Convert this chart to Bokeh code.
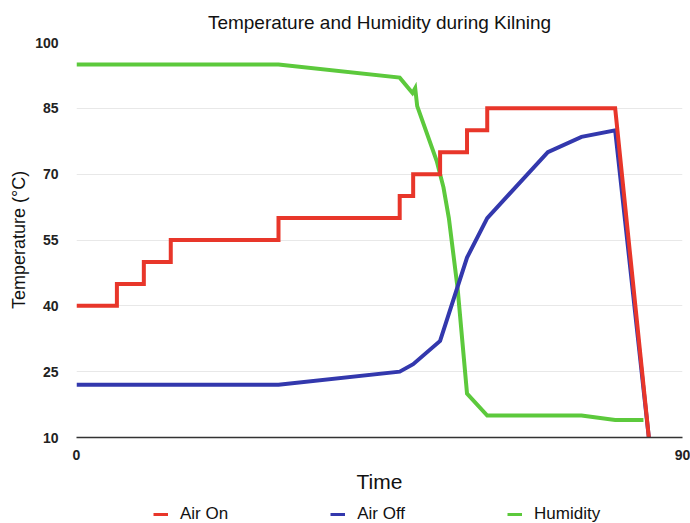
from bokeh.plotting import figure
from bokeh.models import Range1d, FixedTicker, Legend, LegendItem
from bokeh.layouts import column
from bokeh.embed import file_html
from bokeh.resources import INLINE

# ---- data ----
air_on_time = [0, 6, 6, 10, 10, 14, 14, 30, 30, 48, 48, 50, 50, 54, 54, 58, 58, 61, 61, 80, 85]
air_on_temp = [40, 40, 45, 45, 50, 50, 55, 55, 60, 60, 65, 65, 70, 70, 75, 75, 80, 80, 85, 85, 10]

air_off_time = [0, 30, 48, 50, 54, 58, 61, 70, 75, 80, 85]
air_off_temp = [22, 22, 25, 26.7, 32, 51, 60, 75, 78.5, 80, 10]

humidity_time = [0, 30, 48, 49.9, 50.3, 50.6, 53.5, 54.5, 55.3, 56.6, 58, 61, 75, 80, 84.2]
humidity_val = [95, 95, 92, 88.5, 89.6, 85.5, 73, 67, 60, 44, 20, 15, 15, 14, 14]

series_names = ["Air On", "Air Off", "Humidity"]
series_colors = ["#e8362a", "#3338ad", "#5cc93c"]

y_ticks = [10, 25, 40, 55, 70, 85, 100]
x_ticks = [0, 90]

FONT = "Liberation Sans"

p = figure(width=690, height=495, x_range=Range1d(0, 90), y_range=Range1d(10, 100),
           output_backend="svg", toolbar_location=None,
           min_border_left=76, min_border_right=8, min_border_top=42, min_border_bottom=54,
           title="Temperature and Humidity during Kilning")

p.title.align = "center"
p.title.text_font = FONT
p.title.text_font_size = "19px"
p.title.text_font_style = "normal"
p.title.text_color = "#111111"
p.title.offset = 0
p.title.standoff = 19

p.outline_line_color = None
p.background_fill_color = "white"
p.xgrid.grid_line_color = None
p.ygrid.grid_line_color = "#e8e8e8"
p.ygrid.grid_line_width = 1

p.xaxis.ticker = FixedTicker(ticks=x_ticks)
p.yaxis.ticker = FixedTicker(ticks=y_ticks)
p.xaxis.axis_line_color = "#333333"
p.xaxis.axis_line_width = 1.5
p.yaxis.axis_line_color = None
for ax in (p.xaxis, p.yaxis):
    ax.major_tick_line_color = None
    ax.minor_tick_line_color = None
    ax.major_label_text_font = FONT
    ax.major_label_text_font_size = "14px"
    ax.major_label_text_font_style = "bold"
    ax.major_label_text_color = "#222222"
    ax.axis_label_text_font = FONT
    ax.axis_label_text_font_style = "normal"
    ax.axis_label_text_color = "#111111"

p.xaxis.axis_label = "Time"
p.xaxis.axis_label_text_font_size = "21px"
p.xaxis.major_label_standoff = 6
p.xaxis.axis_label_standoff = 7
p.yaxis.axis_label = "Temperature (°C)"
p.yaxis.axis_label_text_font_size = "18px"
p.yaxis.major_label_standoff = 12
p.yaxis.axis_label_standoff = 3

lw = 4
g = p.line(humidity_time, humidity_val, line_color=series_colors[2], line_width=lw, line_join="miter")
b = p.line(air_off_time, air_off_temp, line_color=series_colors[1], line_width=lw, line_join="miter")
r = p.line(air_on_time, air_on_temp, line_color=series_colors[0], line_width=lw, line_join="miter")

# legend strip below the chart (frame aligned with the chart's frame)
lg = figure(width=690, height=28, x_range=Range1d(0, 1), y_range=Range1d(0, 1),
            output_backend="svg", toolbar_location=None,
            x_axis_type=None, y_axis_type=None,
            min_border_left=76, min_border_right=8, min_border_top=0, min_border_bottom=0)
lg.outline_line_color = None
lg.grid.grid_line_color = None
dummies = [lg.line([-2, -1], [-2, -1], line_color=c, line_width=3) for c in series_colors]
legend = Legend(items=[LegendItem(label=n, renderers=[d]) for n, d in zip(series_names, dummies)],
                orientation="horizontal", location=(77, -1),
                spacing=102, glyph_width=15, glyph_height=18, label_standoff=12,
                label_height=18,
                label_text_font=FONT, label_text_font_size="17px", label_text_color="#111111",
                border_line_color=None, background_fill_alpha=0, padding=0, margin=0)
lg.add_layout(legend, "center")

layout = column(p, lg, spacing=0)
open("out.html", "w").write(file_html(layout, INLINE))
